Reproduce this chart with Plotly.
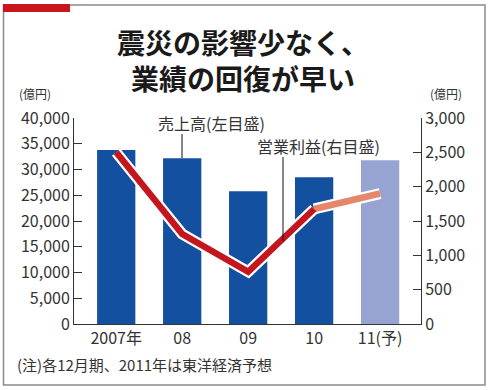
import plotly.graph_objects as go

categories = ["2007年", "08", "09", "10", "11(予)"]
sales = [33800, 32200, 25800, 28500, 31800]          # 売上高 (左目盛, 億円)
profit = [2500, 1310, 760, 1675, 1900]               # 営業利益 (右目盛, 億円)
left_ticks = [0, 5000, 10000, 15000, 20000, 25000, 30000, 35000, 40000]
right_ticks = [0, 500, 1000, 1500, 2000, 2500, 3000]

FONT = "Noto Sans CJK JP"
TXT = "#333333"

# plot area in pixels
L, R, T, B = 74, 421, 118, 324
W, H = 490, 390


def px(x):
    return (x - L) / (R - L)


def py(y):
    return (B - y) / (B - T)


bar_colors = ["#1450a0"] * 4 + ["#97a3d1"]

fig = go.Figure()
fig.add_trace(go.Bar(x=categories, y=sales, marker_color=bar_colors,
                     marker_line_width=0, width=0.58, yaxis="y"))

# operating profit line (white outline + colour)
fig.add_trace(go.Scatter(x=categories[:4], y=profit[:4], mode="lines",
                         line=dict(color="white", width=11), yaxis="y2"))
fig.add_trace(go.Scatter(x=categories[3:], y=profit[3:], mode="lines",
                         line=dict(color="white", width=11), yaxis="y2"))
fig.add_trace(go.Scatter(x=categories[3:], y=profit[3:], mode="lines",
                         line=dict(color="#e4876b", width=6.5), yaxis="y2"))
fig.add_trace(go.Scatter(x=categories[:4], y=profit[:4], mode="lines",
                         line=dict(color="#c3161e", width=6.5), yaxis="y2"))

shapes = [
    # outer frame
    dict(type="rect", xref="paper", yref="paper", x0=px(3.5), x1=px(485), y0=py(5), y1=py(385),
         line=dict(color="#8a8a8a", width=1.5), layer="below"),
    # red tab
    dict(type="rect", xref="paper", yref="paper", x0=px(3), x1=px(70), y0=py(4), y1=py(12),
         fillcolor="#c8161d", line=dict(width=0)),
    # leader lines
    dict(type="line", xref="paper", yref="paper", x0=px(182), x1=px(182), y0=py(134), y1=py(158),
         line=dict(color="#111", width=1)),
    dict(type="line", xref="paper", yref="paper", x0=px(283), x1=px(283), y0=py(157), y1=py(241),
         line=dict(color="#111", width=1)),
]

annotations = [
    dict(text="<b>震災の影響少なく、<br>業績の回復が早い</b>", x=px(243), y=py(60), xref="paper",
         yref="paper", xanchor="center", yanchor="middle", align="center",
         showarrow=False, font=dict(family=FONT, size=28, color="#1a1a1a")),
    dict(text="(億円)", x=px(17), y=py(93), xref="paper", yref="paper", xanchor="left",
         yanchor="middle", showarrow=False, font=dict(family=FONT, size=12, color=TXT)),
    dict(text="(億円)", x=px(428), y=py(93), xref="paper", yref="paper", xanchor="left",
         yanchor="middle", showarrow=False, font=dict(family=FONT, size=12, color=TXT)),
    dict(text="売上高(左目盛)", x=px(156), y=py(123), xref="paper", yref="paper", xanchor="left",
         yanchor="middle", showarrow=False, font=dict(family=FONT, size=16, color=TXT)),
    dict(text="営業利益(右目盛)", x=px(255), y=py(146), xref="paper", yref="paper", xanchor="left",
         yanchor="middle", showarrow=False, font=dict(family=FONT, size=16, color=TXT)),
    dict(text="(注)各12月期、2011年は東洋経済予想", x=px(15), y=py(364), xref="paper", yref="paper",
         xanchor="left", yanchor="middle", showarrow=False, font=dict(family=FONT, size=15, color=TXT)),
]

fig.update_layout(
    width=W, height=H,
    margin=dict(l=L, r=W - R, t=T, b=H - B, pad=0, autoexpand=False),
    paper_bgcolor="white", plot_bgcolor="white",
    showlegend=False, bargap=0.4,
    font=dict(family=FONT, color=TXT, size=16),
    xaxis=dict(type="category", range=[-0.64, 4.62], showline=True, linecolor="#333",
               linewidth=1, ticks="", showgrid=False, zeroline=False,
               tickfont=dict(size=16, color=TXT)),
    yaxis=dict(range=[0, 40000], tickvals=left_ticks, tickformat=",d", showline=True,
               linecolor="#333", linewidth=1, ticks="inside", ticklen=8, tickcolor="#333",
               showgrid=False, zeroline=False, tickfont=dict(size=16, color=TXT)),
    yaxis2=dict(range=[0, 3000], tickvals=right_ticks, tickformat=",d", overlaying="y",
                side="right", showline=True, linecolor="#333", linewidth=1, ticks="inside",
                ticklen=8, tickcolor="#333", showgrid=False, zeroline=False,
                tickfont=dict(size=16, color=TXT)),
    shapes=shapes, annotations=annotations,
)

fig.write_html("out.html", config={"displayModeBar": False},
               post_script="document.body.style.margin='0';document.body.style.overflow='hidden';")
